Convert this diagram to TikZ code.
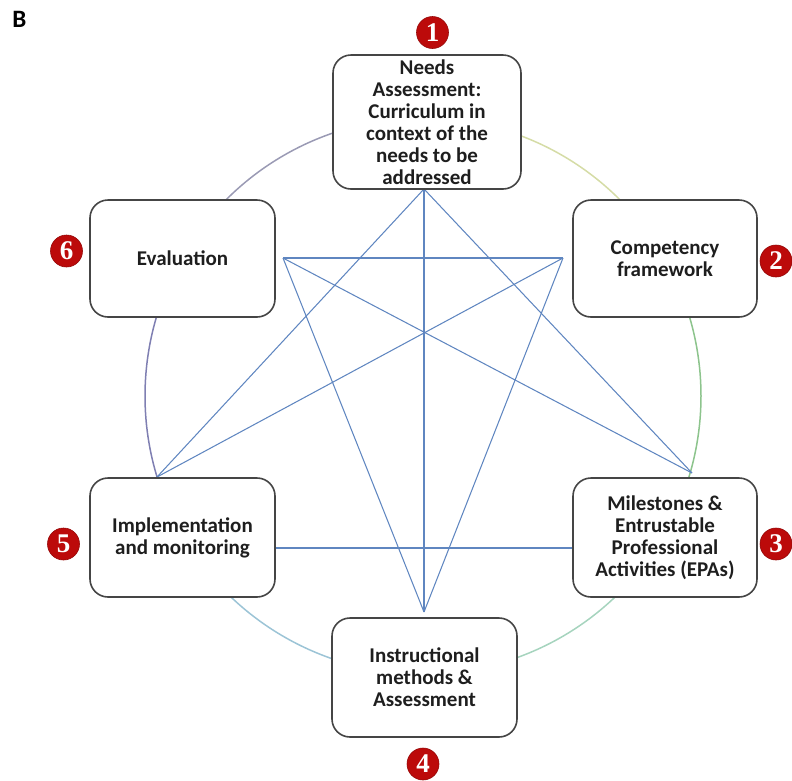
\documentclass[tikz,border=0pt]{standalone}
\usepackage{fontspec}
\setmainfont{Carlito}
\newfontfamily\badgefont{Liberation Serif}
\definecolor{boxline}{HTML}{454545}
\definecolor{txt}{HTML}{1E1E1E}
\definecolor{web}{HTML}{5F86C0}
\definecolor{badge}{HTML}{BC0A0A}
\definecolor{arcA}{HTML}{D5DCA6}
\definecolor{arcB}{HTML}{8DC48D}
\definecolor{arcC}{HTML}{A6D4BE}
\definecolor{arcD}{HTML}{9CC4D6}
\definecolor{arcE}{HTML}{7F7FB2}
\definecolor{arcF}{HTML}{9A9AB4}
\tikzset{
  stagebox/.style={draw=boxline, line width=1.6pt, rounded corners=18pt, fill=white,
    align=center, inner sep=0pt, text=txt,
    font=\bfseries\fontsize{21}{22}\selectfont},
  webline/.style={draw=web, line width=1.05pt},
  ringarc/.style={line width=1.5pt},
  numbadge/.style={circle, fill=badge, draw=badge!80!black, line width=0.6pt,
    minimum size=32pt, inner sep=0pt, text=white,
    font=\badgefont\bfseries\fontsize{27}{27}\selectfont}
}
\begin{document}
\begin{tikzpicture}[x=1pt, y=-1pt]
\useasboundingbox (0,0) rectangle (792,780);
% panel letter
\node[font=\bfseries\fontsize{25}{25}\selectfont, text=black] (lab) at (19.5,19.5) {B};
% ring (coordinate angle = - visual angle)
\coordinate (c) at (423,396);
\draw[ringarc, arcA] (c) ++(-30:278) arc[start angle=-30, end angle=-90, radius=278];
\draw[ringarc, arcB] (c) ++(30:278) arc[start angle=30, end angle=-30, radius=278];
\draw[ringarc, arcC] (c) ++(90:278) arc[start angle=90, end angle=30, radius=278];
\draw[ringarc, arcD] (c) ++(150:278) arc[start angle=150, end angle=90, radius=278];
\draw[ringarc, arcE] (c) ++(210:278) arc[start angle=210, end angle=150, radius=278];
\draw[ringarc, arcF] (c) ++(270:278) arc[start angle=270, end angle=210, radius=278];
% web points
\coordinate (p1) at (424,189);
\coordinate (p2) at (563,258);
\coordinate (p3) at (692,473);
\coordinate (p4) at (424,612);
\coordinate (p5) at (157,477);
\coordinate (p6) at (283,258);
\coordinate (q5) at (275,548);
\coordinate (q3) at (573,548);
\draw[webline] (p1) -- (p4);
\draw[webline] (p6) -- (p2);
\draw[webline] (p1) -- (p5);
\draw[webline] (p1) -- (p3);
\draw[webline] (p6) -- (p3);
\draw[webline] (p6) -- (p4);
\draw[webline] (p2) -- (p5);
\draw[webline] (p2) -- (p4);
\draw[webline] (q5) -- (q3);
% boxes
\node[stagebox, minimum width=188pt, minimum height=134pt] (n1) at (427,122)
  {Needs\\Assessment:\\Curriculum in\\context of the\\needs to be\\addressed};
\node[stagebox, minimum width=184pt, minimum height=117pt] (n2) at (665,258.5)
  {Competency\\framework};
\node[stagebox, minimum width=184pt, minimum height=119pt] (n3) at (665,537.5)
  {Milestones \&\\Entrustable\\Professional\\Activities (EPAs)};
\node[stagebox, minimum width=185pt, minimum height=119pt] (n4) at (424.5,677.5)
  {Instructional\\methods \&\\Assessment};
\node[stagebox, minimum width=185pt, minimum height=119pt] (n5) at (182.5,537.5)
  {Implementation\\and monitoring};
\node[stagebox, minimum width=185pt, minimum height=117pt] (n6) at (182.5,258.5)
  {Evaluation};
% number badges
\node[numbadge] (b1) at (432.5,32.5) {1};
\node[numbadge] (b2) at (776,261) {2};
\node[numbadge] (b3) at (776,544) {3};
\node[numbadge] (b4) at (423,764) {4};
\node[numbadge] (b5) at (63.5,544) {5};
\node[numbadge] (b6) at (66.5,251) {6};
\end{tikzpicture}
\end{document}
